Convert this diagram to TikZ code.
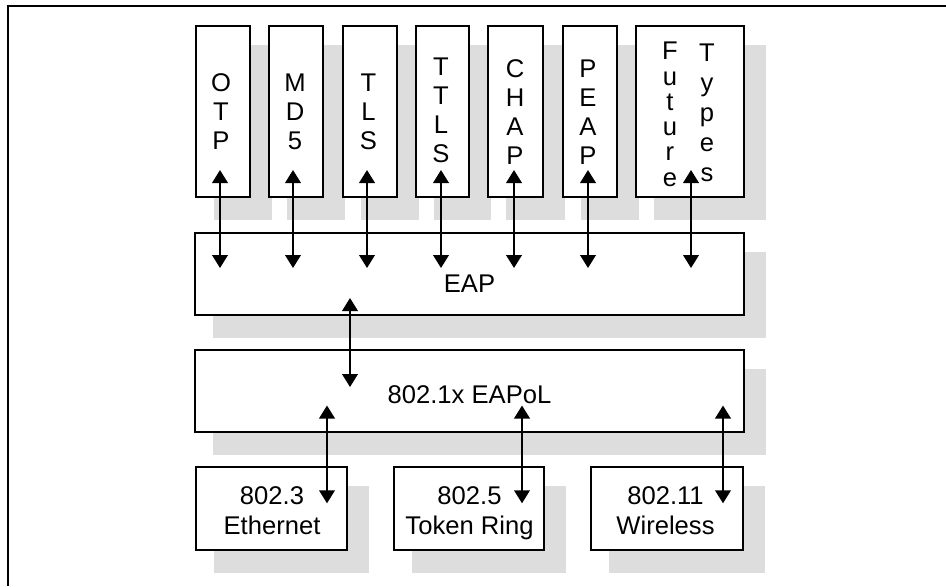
\documentclass[tikz,border=0pt]{standalone}
\usepackage{fontspec}
\setmainfont{Liberation Sans}
\usetikzlibrary{arrows.meta,fit,backgrounds}
\definecolor{shadowgray}{RGB}{221,221,221}
\begin{document}
\begin{tikzpicture}[x=0.5pt,y=-0.5pt,
  boxstyle/.style={draw=black,line width=1pt,fill=white,inner sep=0pt},
  vlbl/.style={inner sep=0pt,align=center,anchor=north,font=\fontsize{12.8}{14.5}\selectfont},
  hlbl/.style={inner sep=0pt,align=center,anchor=north,font=\fontsize{12.8}{15}\selectfont},
  blbl/.style={inner sep=0pt,anchor=base,font=\fontsize{12.8}{15}\selectfont},
  arr/.style={line width=1pt,{Triangle[width=7.8pt,length=6.5pt]}-{Triangle[width=7.8pt,length=6.5pt]}},
  frameline/.style={line width=1pt}]
\useasboundingbox (0,0) rectangle (946,586);
% outer frame
\coordinate (frTR) at (946,6);
\coordinate (frTL) at (8,6);
\coordinate (frBL) at (8,586);
\draw[frameline] (frTR) -- (frTL) -- (frBL);
% top method boxes
\node[boxstyle,fit={(196,26) (250,197)}] (otp) {};
\node[boxstyle,fit={(269,26) (323,197)}] (md5) {};
\node[boxstyle,fit={(343,26) (397,197)}] (tls) {};
\node[boxstyle,fit={(416,26) (469,197)}] (ttls) {};
\node[boxstyle,fit={(488,26) (543,197)}] (chap) {};
\node[boxstyle,fit={(563,26) (617,197)}] (peap) {};
\node[boxstyle,fit={(636,26) (744,197)}] (fut) {};
% layers
\node[boxstyle,fit={(195,233) (744,315)}] (eap) {};
\node[boxstyle,fit={(195,350) (744,432)}] (eapol) {};
\node[boxstyle,fit={(196,467) (347,550)}] (eth) {};
\node[boxstyle,fit={(394,467) (544,550)}] (tok) {};
\node[boxstyle,fit={(591,467) (742.5,550)}] (wls) {};
% shadows
\begin{scope}[on background layer]
\foreach \b in {otp,md5,tls,ttls,chap,peap,fut,eap,eapol,eth,tok,wls}{
  \fill[shadowgray] ([shift={(19,20)}]\b.north west) rectangle ([shift={(21,22)}]\b.south east);
}
\end{scope}
% labels
\node[vlbl] (lotp) at (221,73) {O\\T\\P};
\node[vlbl] (lmd5) at (295,73) {M\\D\\5};
\node[vlbl] (ltls) at (368.5,73) {T\\L\\S};
\node[vlbl] (lttls) at (441,57.5) {T\\T\\L\\S};
\node[vlbl] (lchap) at (515,59) {C\\H\\A\\P};
\node[vlbl] (lpeap) at (588,59) {P\\E\\A\\P};
\node[inner sep=0pt,align=center,anchor=north,font=\fontsize{12.8}{12.65}\selectfont] (lfut) at (670,41.7) {F\\u\\t\\u\\r\\e};
\node[inner sep=0pt,align=center,anchor=north,font=\fontsize{12.8}{15}\selectfont] (ltyp) at (707,43) {T\\y\\p\\e\\s};
\node[blbl] (leap) at (469.5,292.5) {EAP};
\node[blbl] (leapol) at (469.5,403.5) {802.1x EAPoL};
\node[hlbl] (leth) at (272,486.5) {802.3\\Ethernet};
\node[hlbl] (ltok) at (469.5,486.5) {802.5\\Token Ring};
\node[hlbl] (lwls) at (665.5,486.5) {802.11\\Wireless};
% arrows methods <-> EAP
\foreach \n/\x in {otp/220,md5/293,tls/367,ttls/441,chap/514,peap/588,fut/691}{
  \coordinate (\n-up) at (\x,170);
  \coordinate (\n-dn) at (\x,268);
  \draw[arr] (\n-up) -- (\n-dn);
}
% EAP <-> EAPoL
\coordinate (eap-a) at (350,298);
\coordinate (eapol-a) at (350,387);
\draw[arr] (eap-a) -- (eapol-a);
% EAPoL <-> media
\foreach \n/\x in {eth/327,tok/522,wls/723}{
  \coordinate (\n-up) at (\x,405.5);
  \coordinate (\n-dn) at (\x,503.3);
  \draw[arr] (\n-up) -- (\n-dn);
}
\end{tikzpicture}
\end{document}
